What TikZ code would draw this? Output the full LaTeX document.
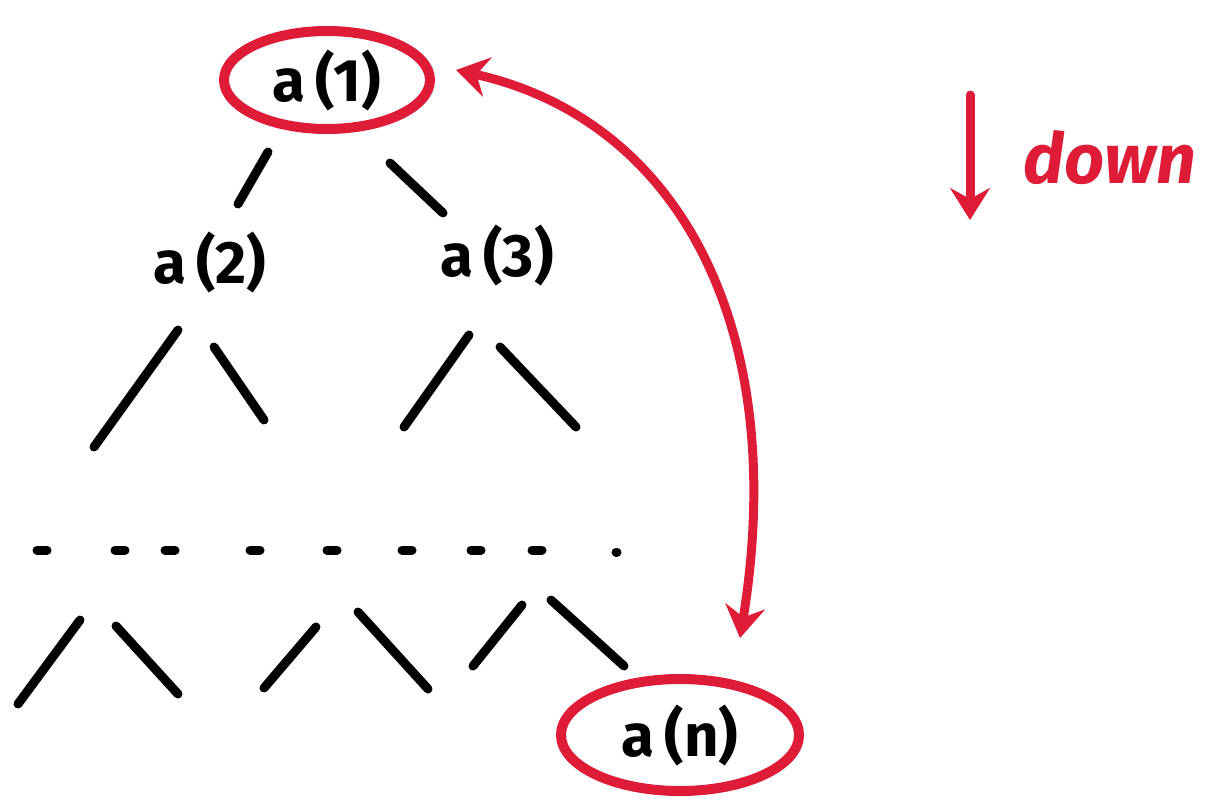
\documentclass[tikz,border=0pt]{standalone}
\usepackage{fontspec}
\setmainfont{Fira Sans}
\usetikzlibrary{shapes.geometric,arrows.meta}
\definecolor{pen}{RGB}{222,28,56}
\tikzset{
  lab/.style={font=\fontsize{60}{62}\selectfont\bfseries, text=black, inner sep=0pt},
  ring/.style={ellipse, draw=pen, line width=10pt},
  edge/.style={line width=9pt, line cap=round, black},
  dotmark/.style={line width=9pt, line cap=round, black},
  redarrow/.style={draw=pen, line width=9pt, line cap=round},
  redtip/.tip={Stealth[length=32pt,width=40pt,inset=11pt]},
}
\begin{document}
\begin{tikzpicture}[x=1pt,y=-1pt]
\useasboundingbox (0,0) rectangle (1209,806);
% nodes
\node[lab, ring, minimum width=206pt, minimum height=98pt] (a1) at (327,80) {a\,(1)};
\node[lab] (a2) at (210,262) {a\,(2)};
\node[lab] (a3) at (497,255) {a\,(3)};
\node[lab, ring, minimum width=238pt, minimum height=112pt] (an) at (680,735) {a\,(n)};
% first level edges
\coordinate (e1a) at (268,152); \coordinate (e1b) at (238,204);
\coordinate (e2a) at (390,163); \coordinate (e2b) at (443,213);
\draw[edge] (e1a) -- (e1b);
\draw[edge] (e2a) -- (e2b);
% second level
\coordinate (l1a) at (178,330); \coordinate (l1b) at (94,447);
\coordinate (l2a) at (214,347); \coordinate (l2b) at (264,420);
\coordinate (l3a) at (469,335); \coordinate (l3b) at (404,427);
\coordinate (l4a) at (500,347); \coordinate (l4b) at (576,427);
\draw[edge] (l1a) -- (l1b);
\draw[edge] (l2a) -- (l2b);
\draw[edge] (l3a) -- (l3b);
\draw[edge] (l4a) -- (l4b);
% dotted row
\foreach \x in {42,120,170,255,332,407,476,537} {
  \draw[dotmark] (\x-5,550) -- (\x+5,550);
}
\draw[dotmark] (616,552) -- (617,552);
% bottom level
\coordinate (b1a) at (80,620); \coordinate (b1b) at (18,704);
\coordinate (b2a) at (116,626); \coordinate (b2b) at (178,694);
\coordinate (b3a) at (316,627); \coordinate (b3b) at (264,688);
\coordinate (b4a) at (358,612); \coordinate (b4b) at (428,689);
\coordinate (b5a) at (522,605); \coordinate (b5b) at (473,666);
\coordinate (b6a) at (551,600); \coordinate (b6b) at (624,666);
\draw[edge] (b1a) -- (b1b);
\draw[edge] (b2a) -- (b2b);
\draw[edge] (b3a) -- (b3b);
\draw[edge] (b4a) -- (b4b);
\draw[edge] (b5a) -- (b5b);
\draw[edge] (b6a) -- (b6b);
% red double arrow
\coordinate (t1) at (456,70);
\coordinate (t2) at (740,638);
\draw[redarrow, redtip-redtip]
  (t1) .. controls (680,120) and (790,330) .. (t2);
% down legend
\coordinate (d1) at (970,95);
\coordinate (d2) at (970,220);
\draw[redarrow, -redtip] (d1) -- (d2);
\node[font=\fontsize{70}{72}\selectfont\bfseries\itshape, text=pen, inner sep=0pt] (down) at (1110,158) {down};
\end{tikzpicture}
\end{document}
